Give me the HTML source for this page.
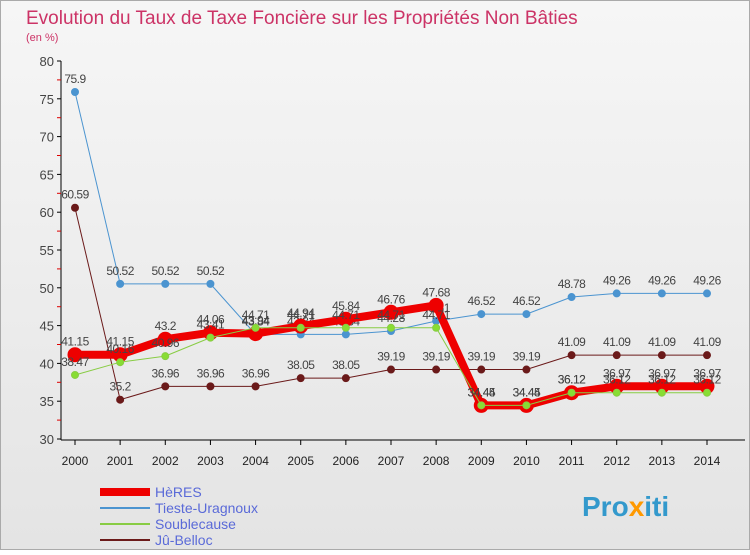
<!DOCTYPE html>
<html><head><meta charset="utf-8"><style>
body{margin:0;width:750px;height:550px;overflow:hidden;font-family:"Liberation Sans",sans-serif;}
</style></head><body>
<svg width="750" height="550" xmlns="http://www.w3.org/2000/svg">
<defs><linearGradient id="bg" x1="0" y1="0" x2="0" y2="1"><stop offset="0" stop-color="#f6f6f6"/><stop offset="1" stop-color="#e4e4e4"/></linearGradient></defs>
<rect width="750" height="550" fill="url(#bg)"/>
<rect x="0.5" y="0.5" width="749" height="549" fill="none" stroke="#aaa"/>
<text x="26" y="24" font-size="19" fill="#cc3366">Evolution du Taux de Taxe Foncière sur les Propriétés Non Bâties</text>
<text x="26" y="41" font-size="11" fill="#cc3366">(en %)</text>
<g id="axes"></g><g id="series"></g><g id="legend"></g>
<text x="582" y="516" font-size="28" font-weight="bold" fill="#3399cc">Pro<tspan fill="#ff9900">x</tspan>iti</text>
</svg>
<script>
const years=[2000,2001,2002,2003,2004,2005,2006,2007,2008,2009,2010,2011,2012,2013,2014];
const yTicks=[30,35,40,45,50,55,60,65,70,75,80];
const heres=[41.15,41.15,43.2,44.06,43.94,44.94,45.84,46.76,47.68,34.44,34.44,36.12,36.97,36.97,36.97];
const tieste=[75.9,50.52,50.52,50.52,43.84,43.84,43.84,44.28,45.61,46.52,46.52,48.78,49.26,49.26,49.26];
const soub=[38.47,40.16,40.96,43.41,44.71,44.71,44.71,44.71,44.71,34.45,34.45,36.12,36.12,36.12,36.12];
const ju=[60.59,35.2,36.96,36.96,36.96,38.05,38.05,39.19,39.19,39.19,39.19,41.09,41.09,41.09,41.09];
const NS="http://www.w3.org/2000/svg";
const X=i=>75+i*(707-75)/(years.length-1);
const Y=v=>439-(v-30)*(439-61)/50;
function mk(tag,attrs,parent){const e=document.createElementNS(NS,tag);for(const k in attrs)e.setAttribute(k,attrs[k]);parent.appendChild(e);return e;}
const ax=document.getElementById('axes');
let l=mk('line',{x1:61,y1:61,x2:61,y2:440,stroke:'#000'},ax);


l=mk('line',{x1:61,y1:440,x2:745,y2:440,stroke:'#000'},ax);


yTicks.forEach(v=>{
 mk('line',{x1:57,y1:Y(v),x2:61,y2:Y(v),stroke:'#000'},ax);
 if(v<80)mk('line',{x1:57,y1:Y(v+2.5),x2:61,y2:Y(v+2.5),stroke:'#d00'},ax);
 const t=mk('text',{x:54,y:Y(v)+5,'font-size':13,fill:'#444','text-anchor':'end'},ax);t.textContent=v;
 
 
});
years.forEach((y,i)=>{
 mk('line',{x1:X(i),y1:440,x2:X(i),y2:445,stroke:'#000'},ax);
 const t=mk('text',{x:X(i),y:465,'font-size':12,fill:'#222','text-anchor':'middle'},ax);t.textContent=y;
 
 
});
const sg=document.getElementById('series');
function series(data,color,w,r,fill,name,lab){
 const g=mk('g',{},sg);
 
 
 mk('polyline',{points:data.map((v,i)=>X(i)+','+Y(v)).join(' '),fill:'none',stroke:color,'stroke-width':w,'stroke-linejoin':'round'},g);
 data.forEach((v,i)=>{
  const c=mk('circle',{cx:X(i),cy:Y(v),r:r,fill:fill,stroke:color,'stroke-width':w>3?3:1},g);
  
  
  const t=mk('text',{x:X(i),y:Y(v)-9,'font-size':12,fill:'#444','text-anchor':'middle','letter-spacing':'-0.5'},g);t.textContent=v;
  
  
 });
}
series(tieste,'#4b94d0',1,3.5,'#4b94d0','tieste-line');
series(ju,'#6b1a1a',1,3.5,'#6b1a1a','ju-belloc-line');
series(heres,'#ee0000',8,6,'#ee0000','heres-line');
series(soub,'#88cc44',1,3.5,'#88dd33','soublecause-line');
const lg=document.getElementById('legend');
[['HèRES','#ee0000',8],['Tieste-Uragnoux','#4b94d0',2],['Soublecause','#88cc44',2],['Jû-Belloc','#6b1a1a',2]].forEach((e,i)=>{
 const y=492+i*16;
 const g=mk('g',{},lg);
 
 
 mk('line',{x1:100,y1:y,x2:150,y2:y,stroke:e[1],'stroke-width':e[2]},g);
 const t=mk('text',{x:155,y:y+5,'font-size':14,fill:'#5a6ad8'},g);t.textContent=e[0];
});
</script>
</body></html>
